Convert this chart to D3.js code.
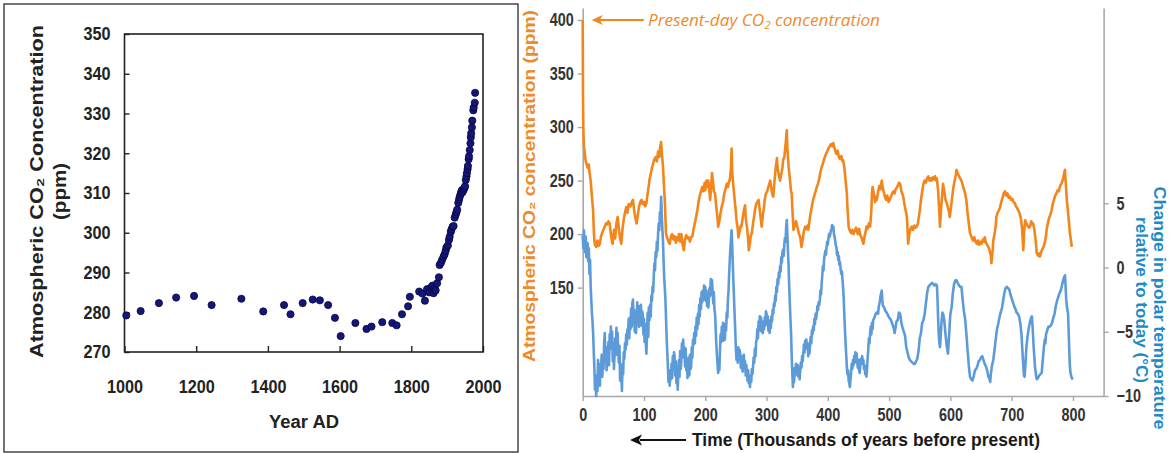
<!DOCTYPE html>
<html lang="en">
<head>
<meta charset="UTF-8">
<title>Atmospheric CO2</title>
<script src="https://d3js.org/d3.v7.min.js"></script>
<style>
body{margin:0;background:#fff;}
svg{display:block;}
</style>
</head>
<body>
<svg width="1170" height="453"></svg>
<script>
// ---- left panel: last millennium (year AD, ppm) ----
let yearsAD = [1005,1045,1096,1144,1194,1243,1326,1387,1445,1463,1497,1525,1545,1568,1587,1603,1644,1675,1689,1719,1747,1759,1774,1791,1796,
 1822,1831,1838,1844,1850,1855,1859,1862,1865,1868,1872,1877,1879,1883,1886,1890,1893,1896,1898,1902,1905,1907,1910,1912,1915,1918,
 1921,1924,1926,1928,1931,1933,1935,1937,1939,1941,1943,1946,1948,1950,1952,1954,1955,1957,1958,1960,1961,1963,1965,1966,1967,1969,
 1970,1973,1974,1977,1978];
let ppmAD = [279.2,280.3,282.3,283.7,284.1,281.8,283.4,280.2,281.8,279.5,282.3,283.2,283.0,281.8,278.6,274.0,277.3,275.8,276.4,277.5,277.3,276.7,279.5,281.5,283.9,
 285.2,284.7,282.9,285.8,285.0,286.2,286.7,284.8,286.0,285.5,287.3,288.8,291.9,292.5,293.2,294.0,294.6,295.5,296.3,296.8,298.2,299.0,300.2,300.8,301.5,301.7,
 303.8,304.6,305.2,305.8,307.5,308.3,309.0,309.6,310.2,310.7,310.2,310.8,311.2,311.7,313.3,314.2,315.0,316.0,316.8,318.5,319.2,320.8,322.5,324.0,325.0,326.5,
 328.2,330.8,331.5,332.7,335.2];
let leftXTicks = [1000,1200,1400,1600,1800,2000];
let leftYTicks = [270,280,290,300,310,320,330,340,350];

// ---- right panel: ice core record (thousand years before present) ----
let co2Record = [[0,400],[0.5,330],[1,300],[2,282],[3,278],[4,272],[5,268],[6,266],[8,262],[10,265],[11,258],[13,250],[15,235],[17,222],[18,205],[19,194],
 [20,190],[22,188],[24,194],[26,189],[28,191],[30,198],[33,203],[36,207],[38,210],[40,209],[42,212],[44,210],[46,200],[48,192],[49,191],[51,204],[53,196],
 [55,210],[57,216],[59,205],[61,196],[63,191],[65,205],[67,214],[69,220],[71,225],[73,220],[75,228],[78,226],[80,230],[82,232],[84,222],[86,215],[88,210],
 [90,218],[92,226],[94,230],[96,232],[98,228],[100,230],[102,226],[104,229],[106,238],[108,246],[109,251],[111,256],[113,262],[115,266],[117,270],[119,272],
 [121,268],[123,277],[125,272],[126,280],[128,286],[129,276],[130,270],[131,263],[132,252],[133,240],[134,232],[135,215],[136,200],[138,196],[140,193],
 [142,191],[144,198],[146,200],[148,195],[150,198],[152,192],[154,197],[155,194],[157,200],[159,193],[161,200],[163,190],[165,185],[167,195],[169,199],
 [171,196],[173,197],[175,193],[177,197],[179,198],[181,205],[183,210],[185,216],[187,222],[189,230],[191,236],[193,240],[195,244],[197,240],[199,248],
 [200,241],[202,250],[204,244],[205,250],[207,238],[208,232],[210,248],[211,257],[213,247],[214,240],[216,238],[218,225],[220,215],[221,207],[223,212],
 [225,220],[227,226],[229,230],[231,238],[233,242],[235,247],[237,244],[239,250],[240,250],[242,262],[243,280],[244,258],[246,244],[248,232],[250,220],
 [251,213],[253,205],[254,197],[256,202],[258,208],[259,207],[261,215],[263,222],[265,227],[266,215],[268,207],[270,195],[271,185],[273,192],[274,198],
 [276,201],[278,210],[280,218],[281,222],[283,228],[285,230],[287,232],[289,222],[291,212],[292,207],[294,218],[296,226],[297,232],[299,238],[301,240],
 [303,244],[305,248],[306,250],[308,242],[310,236],[311,235],[313,250],[315,262],[317,271],[318,262],[320,255],[322,250],[324,256],[326,262],[327,269],
 [329,272],[331,283],[333,297],[334,280],[336,263],[338,252],[340,240],[341,238],[342,225],[344,204],[346,208],[348,212],[349,210],[351,205],[353,200],
 [355,197],[357,188],[359,195],[361,203],[363,207],[365,205],[367,208],[368,204],[370,212],[372,220],[374,226],[376,232],[378,236],[380,240],[382,244],
 [384,247],[386,252],[388,258],[390,263],[392,266],[395,272],[398,276],[401,280],[403,282],[405,284],[407,282],[409,285],[411,280],[413,276],[414,275],
 [416,278],[418,272],[420,270],[422,273],[424,268],[425,269],[427,262],[429,250],[431,238],[432,225],[434,207],[436,203],[438,201],[440,204],[442,200],
 [444,203],[446,206],[447,204],[449,200],[451,205],[453,199],[455,197],[457,193],[458,191],[460,198],[462,203],[463,207],[465,205],[467,210],[469,207],
 [471,222],[472,238],[473,244],[475,238],[477,230],[479,235],[480,232],[482,240],[484,245],[486,242],[488,250],[490,242],[492,238],[493,235],[495,232],
 [497,236],[499,230],[501,232],[503,235],[505,238],[507,240],[509,238],[510,241],[512,243],[514,245],[516,248],[518,247],[520,240],[522,237],[523,235],
 [525,228],[527,222],[529,216],[530,205],[531,191],[533,200],[535,205],[537,207],[539,204],[541,208],[543,206],[545,207],[547,210],[549,218],[550,222],
 [552,232],[554,240],[556,247],[558,250],[560,248],[562,252],[564,254],[566,250],[568,252],[569,250],[571,253],[573,251],[575,254],[577,250],[578,252],
 [580,240],[582,220],[583,207],[585,225],[587,240],[588,247],[590,240],[592,232],[594,229],[596,225],[598,220],[599,216],[601,225],[603,235],[605,244],
 [607,250],[609,256],[610,260],[612,257],[614,254],[616,252],[618,250],[620,246],[622,242],[624,238],[626,232],[628,220],[630,210],[632,201],[634,198],
 [636,195],[637,194],[639,197],[641,193],[643,191],[645,194],[647,190],[649,193],[651,191],[653,195],[655,193],[656,197],[658,192],[660,190],[662,188],
 [664,185],[666,180],[667,173],[669,185],[670,194],[672,200],[674,208],[675,216],[677,220],[679,222],[681,225],[683,230],[685,234],[687,238],[689,240],
 [691,236],[693,238],[695,234],[697,235],[699,232],[701,233],[703,230],[705,229],[707,226],[709,224],[711,222],[713,219],[715,215],[717,205],[719,185],
 [720,200],[722,213],[724,210],[726,208],[728,206],[730,207],[732,212],[734,210],[735,210],[737,204],[739,195],[741,182],[743,180],[745,182],[746,179],
 [748,183],[750,186],[752,188],[754,192],[756,198],[757,204],[759,210],[761,215],[763,218],[765,222],[767,228],[769,232],[771,236],[773,238],[775,241],
 [777,240],[779,245],[781,247],[783,250],[785,255],[787,260],[788,250],[790,232],[792,220],[794,208],[795,201],[797,193],[798,188]];

let tempRecord = [[0,2.5],[1,1.5],[2,2.9],[3,2.1],[4,1.2],[5,2.4],[6,0.8],[7,1.8],[8,1.9],[9,0.5],[10,1.5],[11,-0.5],[12,0.6],[13,-1.5],[14,-2.5],
 [15,-3.5],[16,-4.2],[17,-5.1],[18,-6.5],[19,-7.7],[20,-9.5],[21,-8.4],[22,-10],[23,-8.7],[24,-9.6],[25,-7.2],[26,-8.8],[27,-7.5],[28,-9.2],[29,-7.9],
 [30,-7.7],[31,-6.8],[32,-8.5],[33,-7.1],[34,-7.9],[35,-5.9],[36,-5.1],[37,-7.0],[38,-6.2],[39,-8.0],[40,-6.9],[41,-7.2],[42,-5.8],[43,-7.6],[44,-5.2],
 [45,-6.3],[46,-4.6],[47,-5.9],[48,-5.0],[49,-7.3],[50,-6.2],[51,-7.9],[52,-6.7],[53,-5.5],[54,-6.8],[55,-4.7],[56,-5.9],[57,-5.1],[58,-6.6],[59,-7.4],
 [60,-6.1],[61,-8.8],[62,-7.6],[63,-8.2],[64,-9.6],[65,-7.5],[66,-8.3],[67,-6.6],[68,-7.1],[69,-5.9],[70,-6.4],[71,-5.2],[72,-6.0],[73,-4.8],[74,-5.1],
 [75,-4.0],[76,-5.5],[77,-3.9],[78,-4.8],[79,-3.2],[80,-4.6],[81,-2.8],[82,-2.5],[83,-4.4],[84,-3.3],[85,-5.0],[86,-3.6],[87,-5.1],[88,-3.9],[89,-2.7],
 [90,-4.2],[91,-3.0],[92,-4.6],[93,-3.1],[94,-4.0],[95,-2.9],[96,-4.5],[97,-3.4],[98,-3.6],[99,-5.2],[100,-4.0],[101,-5.8],[102,-4.4],[103,-6.0],[104,-6.7],
 [105,-5.0],[106,-3.5],[107,-5.4],[108,-3.1],[109,-4.1],[110,-2.9],[111,-3.8],[112,-2.2],[113,-2.6],[114,-1.5],[115,-1.9],[116,-0.6],[117,0.3],[118,-0.2],
 [119,1.2],[120,0.8],[121,2.0],[122,1.3],[123,2.6],[124,3.4],[125,2.9],[126,4.3],[127,3.6],[128,5.5],[129,4.1],[130,3.0],[131,2.1],[132,0.5],[133,-0.8],
 [134,-1.6],[135,-2.5],[136,-4.0],[137,-5.5],[138,-6.6],[139,-7.7],[140,-8.9],[141,-8.0],[142,-9.2],[143,-8.1],[144,-8.7],[145,-7.5],[146,-8.6],[147,-6.9],
 [148,-7.8],[149,-6.6],[150,-6.9],[151,-8.4],[152,-7.3],[153,-9.0],[154,-8.1],[155,-9.5],[156,-8.3],[157,-7.2],[158,-8.5],[159,-6.5],[160,-7.9],[161,-7.2],
 [162,-5.9],[163,-6.8],[164,-5.6],[165,-7.0],[166,-6.2],[167,-7.7],[168,-6.3],[169,-8.0],[170,-7.1],[171,-8.6],[172,-8.2],[173,-7.0],[174,-8.4],[175,-6.8],
 [176,-7.9],[177,-7.7],[178,-6.2],[179,-7.0],[180,-5.6],[181,-6.0],[182,-5.1],[183,-5.9],[184,-4.6],[185,-5.3],[186,-3.9],[187,-4.8],[188,-3.6],[189,-4.4],
 [190,-2.9],[191,-3.8],[192,-2.4],[193,-3.2],[194,-1.9],[195,-2.7],[196,-1.8],[197,-2.5],[198,-1.4],[199,-1.5],[200,-1.5],[201,-2.6],[202,-1.8],[203,-3.0],
 [204,-2.2],[205,-3.1],[206,-2.4],[207,-1.6],[208,-2.2],[209,-0.9],[210,-1.5],[211,-1.0],[212,-1.8],[213,-2.8],[214,-1.9],[215,-3.3],[216,-3.6],[217,-4.8],
 [218,-5.9],[219,-6.8],[220,-7.5],[221,-8.2],[222,-7.4],[223,-8.0],[224,-6.5],[225,-5.2],[226,-5.8],[227,-4.6],[228,-5.5],[229,-4.3],[230,-5.7],[231,-4.8],
 [232,-5.6],[233,-4.4],[234,-4.9],[235,-3.5],[236,-3.9],[237,-2.5],[238,-1.8],[239,-0.5],[240,0.6],[241,1.5],[242,2.2],[243,2.9],[244,1.6],[245,0.2],
 [246,-1.2],[247,-2.5],[248,-3.8],[249,-5.0],[250,-6.4],[251,-7.2],[252,-6.5],[253,-7.4],[254,-6.2],[255,-7.0],[256,-6.4],[257,-6.7],[258,-7.8],[259,-6.9],
 [260,-7.5],[261,-8.1],[262,-7.7],[263,-6.8],[264,-7.9],[265,-7.3],[266,-8.4],[267,-7.6],[268,-8.2],[269,-8.8],[270,-8.0],[271,-9.0],[272,-8.5],[273,-9.3],
 [274,-8.4],[275,-8.9],[276,-7.9],[277,-8.3],[278,-7.7],[279,-7.0],[280,-7.4],[281,-6.3],[282,-6.9],[283,-5.8],[284,-5.6],[285,-4.8],[286,-5.5],[287,-4.2],
 [288,-4.9],[289,-3.8],[290,-4.5],[291,-3.9],[292,-5.0],[293,-4.4],[294,-5.1],[295,-4.2],[296,-4.8],[297,-3.9],[298,-4.5],[299,-3.4],[300,-3.6],[301,-4.4],
 [302,-3.8],[303,-4.9],[304,-4.1],[305,-5.1],[306,-4.3],[307,-4.7],[308,-3.8],[309,-4.2],[310,-3.3],[311,-3.6],[312,-2.8],[313,-3.0],[314,-2.2],[315,-2.6],
 [316,-1.5],[317,-1.9],[318,-0.9],[319,-1.3],[320,-0.4],[321,-0.8],[322,0.1],[323,-0.3],[324,0.8],[325,0.4],[326,1.2],[327,1.4],[328,0.9],[329,1.8],
 [330,2.3],[331,2.0],[332,3.1],[333,3.7],[334,2.5],[335,1.2],[336,0.1],[337,-1.5],[338,-2.8],[339,-4.0],[340,-5.1],[341,-6.8],[342,-8.2],[343,-9.3],
 [344,-8.6],[345,-8.9],[346,-7.8],[347,-8.4],[348,-7.5],[349,-7.7],[350,-8.3],[351,-7.6],[352,-8.5],[353,-7.9],[354,-8.7],[355,-8.0],[356,-7.4],[357,-7.8],
 [358,-6.9],[359,-7.3],[360,-6.7],[361,-6.0],[362,-6.6],[363,-5.7],[364,-6.2],[365,-5.6],[366,-6.3],[367,-5.9],[368,-6.9],[369,-6.2],[370,-6.7],[371,-6.0],
 [372,-5.4],[373,-5.9],[374,-4.9],[375,-5.2],[376,-4.6],[377,-4.9],[378,-4.0],[379,-4.4],[380,-3.6],[381,-4.0],[382,-3.6],[383,-3.0],[384,-3.3],[385,-2.7],
 [386,-2.9],[387,-2.5],[388,-1.8],[389,-2.1],[390,-1.2],[391,-0.6],[392,0.1],[393,-0.2],[394,0.7],[395,1.0],[396,1.3],[397,1.0],[398,1.6],[399,2.0],
 [400,1.8],[401,2.3],[402,2.6],[403,2.4],[404,2.6],[405,2.9],[406,2.9],[407,3.3],[408,3.0],[409,3.2],[410,2.6],[411,2.4],[412,2.1],[413,1.7],[414,1.6],
 [415,1.0],[416,1.2],[417,0.6],[418,0.9],[419,0.2],[420,0.4],[421,-0.2],[422,-0.5],[423,-0.3],[424,-1.0],[425,-1.6],[426,-2.5],[427,-3.8],[428,-4.9],
 [429,-5.9],[430,-6.8],[431,-7.7],[432,-8.3],[433,-8.0],[434,-8.8],[435,-9.0],[436,-9.3],[437,-8.7],[438,-8.1],[439,-7.5],[440,-7.9],[441,-7.2],[442,-7.6],
 [443,-6.9],[444,-7.4],[445,-6.6],[446,-7.1],[447,-6.7],[448,-7.4],[449,-7.8],[450,-7.2],[451,-8.0],[452,-8.2],[453,-7.6],[454,-7.1],[455,-7.5],[456,-6.9],
 [457,-7.3],[458,-7.2],[459,-7.9],[460,-7.6],[461,-8.3],[462,-7.8],[463,-8.5],[464,-7.9],[465,-7.0],[466,-6.4],[467,-5.5],[468,-5.9],[469,-5.1],[470,-4.6],
 [471,-5.2],[472,-4.3],[473,-4.8],[474,-4.1],[476,-3.9],[478,-3.6],[480,-3.5],[482,-3.6],[483,-3.1],[485,-2.6],[486,-2.2],[488,-1.8],[489,-2.6],[490,-3.0],
 [492,-3.1],[494,-3.4],[496,-3.5],[498,-3.7],[500,-3.9],[502,-4.0],[504,-4.2],[506,-4.5],[508,-4.8],[509,-5.1],[510,-4.8],[512,-4.2],[514,-4.1],[516,-3.5],
 [518,-3.6],[520,-4.3],[522,-4.7],[524,-5.0],[526,-5.3],[528,-6.2],[530,-6.6],[532,-7.0],[534,-7.2],[536,-7.3],[538,-7.4],[540,-7.5],[542,-7.5],[544,-7.3],
 [546,-7.1],[548,-6.5],[550,-5.5],[552,-5.1],[554,-4.3],[556,-4.1],[558,-3.6],[560,-2.8],[562,-2.0],[564,-1.5],[566,-1.4],[568,-1.3],[570,-1.2],[572,-1.3],
 [574,-1.4],[576,-1.3],[578,-1.4],[579,-2.5],[580,-4.0],[581,-5.2],[582,-5.9],[583,-6.2],[584,-5.5],[585,-4.6],[586,-4.0],[587,-3.5],[588,-3.6],[590,-4.1],
 [592,-5.2],[594,-6.1],[596,-6.7],[597,-6.0],[598,-5.2],[599,-4.3],[600,-3.6],[602,-3.1],[604,-2.0],[606,-1.3],[608,-1.0],[610,-1.0],[612,-1.2],[614,-1.4],
 [616,-1.5],[618,-1.5],[620,-2.5],[622,-3.4],[624,-4.0],[626,-5.1],[628,-6.4],[630,-7.6],[632,-8.5],[634,-8.7],[636,-8.8],[638,-8.5],[640,-8.0],[642,-7.9],
 [644,-7.7],[646,-7.3],[648,-7.2],[650,-7.0],[652,-6.9],[654,-7.2],[656,-7.5],[658,-7.7],[660,-8.0],[662,-8.5],[664,-8.7],[665,-8.9],[666,-8.3],[668,-7.6],
 [670,-7.2],[672,-6.4],[674,-5.6],[676,-4.8],[678,-4.4],[680,-3.9],[682,-3.5],[684,-3.2],[686,-2.6],[688,-2.0],[690,-1.6],[692,-1.5],[694,-1.6],[696,-1.7],
 [698,-2.1],[700,-2.4],[702,-2.7],[704,-3.0],[706,-3.2],[708,-3.5],[710,-3.6],[712,-3.8],[714,-4.3],[716,-5.2],[718,-6.9],[720,-8.4],[721,-8.5],[722,-7.9],
 [724,-6.2],[726,-5.3],[728,-4.7],[730,-4.2],[732,-3.9],[733,-3.8],[734,-4.5],[736,-6.3],[738,-7.7],[740,-8.5],[741,-8.7],[743,-8.6],[745,-8.4],[747,-8.3],
 [749,-8.2],[750,-7.6],[752,-6.5],[754,-5.6],[755,-5.9],[756,-5.2],[758,-4.9],[760,-4.6],[762,-4.6],[764,-4.5],[766,-4.3],[768,-3.9],[770,-3.6],[772,-3.0],
 [774,-2.6],[776,-2.3],[778,-2.0],[780,-1.8],[782,-1.4],[784,-1.0],[786,-0.7],[787,-0.6],[788,-1.5],[789,-2.5],[790,-3.0],[792,-3.6],[793,-5.0],[794,-6.5],
 [795,-7.7],[796,-8.2],[798,-8.6],[800,-8.7]];

let ageTicks = [0,100,200,300,400,500,600,700,800];
let co2Ticks = [150,200,250,300,350,400];
let tempTicks = [-10,-5,0,5];

const orange = "#f2861c", blue = "#5d9bd8";
const sans = "'Liberation Sans', Arial, sans-serif";

let svg = d3.select("svg");

// squeeze text horizontally, the scanned figure looks condensed
function squeeze(sel, f){
  sel.each(function(){
    let w = this.getComputedTextLength();
    d3.select(this).attr("textLength", w*f).attr("lengthAdjust","spacingAndGlyphs");
  });
}

// ================= left panel =================
svg.append("rect")
  .attr("x",4).attr("y",4).attr("width",514).attr("height",448)
  .attr("fill","none").attr("stroke","#3a3a3a").attr("stroke-width",1.4);

let xL = d3.scaleLinear().domain([1000,2000]).range([124.5,483]);
let yL = d3.scaleLinear().domain([270,350]).range([352,34]);

let gx = svg.append("g").attr("transform","translate(0,352)")
  .call(d3.axisBottom(xL).tickValues(leftXTicks).tickFormat(d3.format("d"))
    .tickSizeInner(-6).tickSizeOuter(0).tickPadding(28));
let gy = svg.append("g").attr("transform","translate(124.5,0)")
  .call(d3.axisLeft(yL).tickValues(leftYTicks)
    .tickSizeInner(-5).tickSizeOuter(0).tickPadding(14));
[gx,gy].forEach(g=>{
  g.select(".domain").remove();
  g.selectAll(".tick line").attr("stroke","#222").attr("stroke-width",1.4);
  g.selectAll("text").attr("font-family",sans).attr("font-size",18)
    .attr("font-weight","bold").attr("fill","#222");
  squeeze(g.selectAll("text"),0.9);
});

svg.append("rect")
  .attr("x",xL(1000)).attr("y",yL(350))
  .attr("width",xL(2000)-xL(1000)).attr("height",yL(270)-yL(350))
  .attr("fill","none").attr("stroke","#222").attr("stroke-width",1.6);

svg.append("g").selectAll("circle")
  .data(yearsAD).enter().append("circle")
  .attr("cx",d=>xL(d))
  .attr("cy",(d,i)=>yL(ppmAD[i]))
  .attr("r",3.6)
  .attr("fill","#15167a").attr("stroke","#06063e").attr("stroke-width",0.8);

svg.append("text")
  .attr("transform","translate(304,422)")
  .attr("text-anchor","middle").attr("dy","0.35em")
  .attr("font-family",sans).attr("font-size",18).attr("font-weight","bold")
  .attr("fill","#222")
  .attr("textLength",70).attr("lengthAdjust","spacingAndGlyphs")
  .text("Year AD");

let leftTitle = svg.append("g").attr("font-family",sans).attr("font-size",18)
  .attr("font-weight","bold").attr("fill","#222").attr("text-anchor","middle");
leftTitle.append("text").attr("transform","translate(43,191.5) rotate(-90)")
  .attr("textLength",333).attr("lengthAdjust","spacingAndGlyphs")
  .text("Atmospheric CO\u2082 Concentration");
leftTitle.append("text").attr("transform","translate(66,191.5) rotate(-90)")
  .attr("textLength",57).attr("lengthAdjust","spacingAndGlyphs")
  .text("(ppm)");

// ================= right panel =================
let xR = d3.scaleLinear().domain([0,850]).range([582.7,1103.6]);
let yC = d3.scaleLinear().domain([48.8,411.2]).range([396,8]);
let yT = d3.scaleLinear().domain([-10,20.2]).range([396,8]);

let axL = svg.append("g").attr("transform",`translate(${xR(0)},0)`)
  .call(d3.axisLeft(yC).tickValues(co2Ticks).tickSizeInner(5).tickSizeOuter(0).tickPadding(4));
let axR = svg.append("g").attr("transform",`translate(${xR(850)},0)`)
  .call(d3.axisRight(yT).tickValues(tempTicks).tickSizeInner(5).tickSizeOuter(0).tickPadding(8));
let axB = svg.append("g").attr("transform",`translate(0,${yC(48.8)})`)
  .call(d3.axisBottom(xR).tickValues(ageTicks).tickSizeInner(5).tickSizeOuter(0).tickPadding(7));
[axL,axR,axB].forEach(g=>{
  g.select(".domain").attr("stroke","#a8a8a8").attr("stroke-width",1.6);
  g.selectAll(".tick line").attr("stroke","#a8a8a8").attr("stroke-width",1.4);
  g.selectAll("text").attr("font-family",sans).attr("font-size",18)
    .attr("font-weight","bold").attr("fill","#333");
  squeeze(g.selectAll("text"),0.8);
});

let line = (y)=> d3.line().x(d=>xR(d[0])).y(d=>y(d[1]));

svg.append("path").datum(tempRecord)
  .attr("d",line(yT)).attr("fill","none")
  .attr("stroke",blue).attr("stroke-width",2.6).attr("stroke-linejoin","round");
svg.append("path").datum(co2Record)
  .attr("d",line(yC)).attr("fill","none")
  .attr("stroke",orange).attr("stroke-width",2.6).attr("stroke-linejoin","round");

// present-day annotation
let ay = yC(400), ax = xR(0)+9;
svg.append("line").attr("x1",ax+6).attr("y1",ay).attr("x2",ax+52).attr("y2",ay)
  .attr("stroke",orange).attr("stroke-width",2);
svg.append("path")
  .attr("d",`M${ax},${ay} L${ax+11},${ay-5} L${ax+8},${ay} L${ax+11},${ay+5} Z`)
  .attr("fill",orange);
let note = svg.append("text").attr("x",648).attr("y",ay+6.5)
  .attr("font-family","'Open Sans', sans-serif").attr("font-style","italic")
  .attr("font-size",16.5).attr("fill","#ef8a2c")
  .attr("textLength",232).attr("lengthAdjust","spacingAndGlyphs");
note.append("tspan").text("Present-day CO");
note.append("tspan").attr("font-size",11).attr("dy",3).text("2");
note.append("tspan").attr("dy",-3).text(" concentration");

// axis titles
svg.append("text")
  .attr("transform","translate(535,186) rotate(-90)")
  .attr("text-anchor","middle")
  .attr("font-family",sans).attr("font-size",17).attr("font-weight","bold")
  .attr("fill","#ee8a2a")
  .attr("textLength",352).attr("lengthAdjust","spacingAndGlyphs")
  .text("Atmospheric CO\u2082 concentration (ppm)");

let tTitle = svg.append("g").attr("font-family",sans).attr("font-size",16)
  .attr("font-weight","bold").attr("fill","#1f8ac6").attr("text-anchor","middle");
tTitle.append("text").attr("transform","translate(1154,308) rotate(90)")
  .attr("textLength",243).attr("lengthAdjust","spacingAndGlyphs")
  .text("Change in polar temperature");
tTitle.append("text").attr("transform","translate(1136,300) rotate(90)")
  .attr("textLength",166).attr("lengthAdjust","spacingAndGlyphs")
  .text("relative to today (\u00b0C)");

// time arrow + label
let ty = 440;
svg.append("line").attr("x1",640).attr("y1",ty).attr("x2",686).attr("y2",ty)
  .attr("stroke","#111").attr("stroke-width",2.2);
svg.append("path")
  .attr("d",`M630,${ty} L642,${ty-5.5} L639,${ty} L642,${ty+5.5} Z`)
  .attr("fill","#111");
svg.append("text").attr("x",692).attr("y",ty).attr("dy","0.35em")
  .attr("font-family",sans).attr("font-size",18).attr("font-weight","bold")
  .attr("fill","#1a1a1a")
  .attr("textLength",348).attr("lengthAdjust","spacingAndGlyphs")
  .text("Time (Thousands of years before present)");
</script>
</body>
</html>
